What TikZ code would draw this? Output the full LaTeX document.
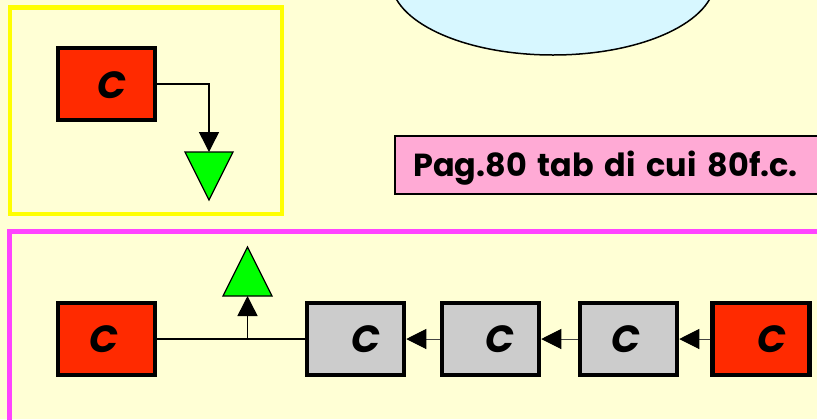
\documentclass[tikz,border=0pt]{standalone}
\usepackage{fontspec}
\setmainfont{Poppins}
\usetikzlibrary{arrows.meta}
\definecolor{bg}{HTML}{FFFFD5}
\definecolor{ell}{HTML}{D7F7FF}
\definecolor{pinkf}{HTML}{FFAAD5}
\definecolor{redf}{HTML}{FF2A00}
\definecolor{grayf}{HTML}{CCCCCC}
\definecolor{mag}{HTML}{FF44FF}
\definecolor{yel}{HTML}{FFFF00}
\definecolor{greenf}{HTML}{00FF00}
\definecolor{thinl}{HTML}{444444}
\begin{document}
\begin{tikzpicture}[x=1bp,y=-1bp,
  box/.style={draw=black,line width=4.5bp,minimum width=97bp,minimum height=72bp,inner sep=0pt},
  redbox/.style={box,fill=redf},
  graybox/.style={box,fill=grayf},
  ctext/.style={font=\fontsize{38}{38}\selectfont\bfseries\itshape,inner sep=0pt},
  conn/.style={draw=black,line width=1.5bp},
  thinconn/.style={draw=thinl,line width=1bp},
  tip/.style={-{Triangle[length=20bp,width=20bp,color=black]}},
  tri/.style={draw=black,line width=1.3bp,fill=greenf,line join=miter}]
\useasboundingbox (0,0) rectangle (817,419);
\clip (0,0) rectangle (817,419);
\fill[bg] (0,0) rectangle (817,419);
% ellipse at top
\draw[line width=1.5bp,fill=ell] (553,-20) ellipse [x radius=162, y radius=75];
% frames
\draw[yel,line width=4.5bp] (10,7.5) rectangle (282,214);
\draw[mag,line width=4.5bp] (9.7,231.7) rectangle (830,440);
% pink label
\draw[fill=pinkf,line width=2bp] (394.5,136) rectangle (830,193.5);
\node[anchor=base west,inner sep=0pt,font=\fontsize{32}{32}\selectfont\bfseries] (lab) at (413,176) {\spaceskip=0.34em\relax Pag.80 tab di cui 80f.c.};
% top group
\node[redbox,label={[ctext,xshift=5.5bp,yshift=-1bp]center:C}] (r1) at (106.5,84) {};
\coordinate (t1) at (209,152);
\draw[tri] (185,152) -- (233,152) -- (209,200) -- cycle;
\draw[conn,tip] (r1.east) -| (t1);
% bottom row
\node[redbox,label={[ctext,xshift=-2.5bp]center:C}] (r2) at (106.5,339) {};
\node[graybox,label={[ctext,xshift=10.5bp]center:C}] (g1) at (355.5,339) {};
\node[graybox,label={[ctext,xshift=9.5bp]center:C}] (g2) at (490.5,339) {};
\node[graybox,label={[ctext,xshift=-2.5bp]center:C}] (g3) at (628.5,339) {};
\node[redbox,label={[ctext,xshift=11bp]center:C}] (r3) at (761,339) {};
\coordinate (t2) at (247.5,296);
\draw[tri] (223,296) -- (272,296) -- (247.5,247) -- cycle;
\coordinate (j) at (247.5,339);
\draw[conn] (r2.east) -- (g1.west);
\draw[conn,tip] (j) -- (t2);
\draw[thinconn,tip] (g2.west) -- (g1.east);
\draw[thinconn,tip] (g3.west) -- (g2.east);
\draw[thinconn,tip] (r3.west) -- (g3.east);
\end{tikzpicture}
\end{document}
